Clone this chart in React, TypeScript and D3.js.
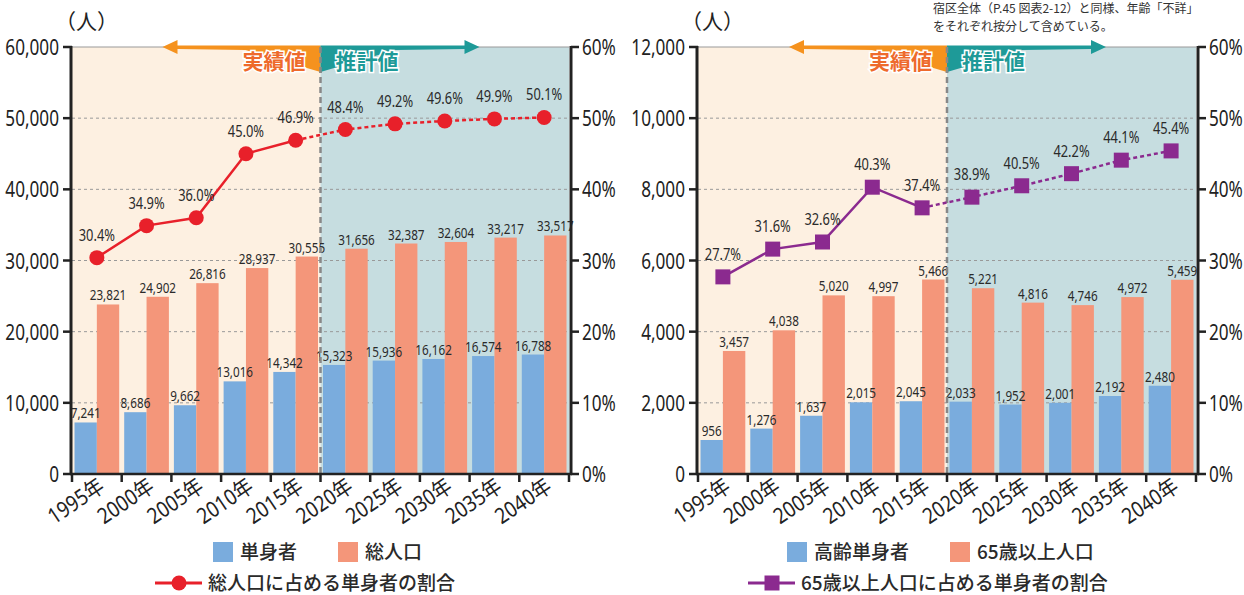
import React from "react";
import * as d3 from "d3";

const years = ["1995年", "2000年", "2005年", "2010年", "2015年", "2020年", "2025年", "2030年", "2035年", "2040年"];

const singles = [7241, 8686, 9662, 13016, 14342, 15323, 15936, 16162, 16574, 16788];
const totalPop = [23821, 24902, 26816, 28937, 30555, 31656, 32387, 32604, 33217, 33517];
const singleShare = [30.4, 34.9, 36.0, 45.0, 46.9, 48.4, 49.2, 49.6, 49.9, 50.1];

const elderlySingles = [956, 1276, 1637, 2015, 2045, 2033, 1952, 2001, 2192, 2480];
const elderlyPop = [3457, 4038, 5020, 4997, 5466, 5221, 4816, 4746, 4972, 5459];
const elderlyShare = [27.7, 31.6, 32.6, 40.3, 37.4, 38.9, 40.5, 42.2, 44.1, 45.4];

const leftTicks = [0, 10000, 20000, 30000, 40000, 50000, 60000];
const rightTicks = [0, 2000, 4000, 6000, 8000, 10000, 12000];
const pctTicks = [0, 10, 20, 30, 40, 50, 60];

const NUM = "'Noto Sans', 'Noto Sans CJK JP', sans-serif";
const JP = "'Noto Sans CJK JP', sans-serif";
const BLUE = "#7AACDD";
const ORANGE = "#F4967A";
const TXT = "#2a2a2a";
const SX = 0.78;

type CTProps = {
  x: number;
  y: number;
  size: number;
  anchor?: "start" | "middle" | "end";
  fill?: string;
  rotate?: number;
  sx?: number;
  children: React.ReactNode;
};

function CText({ x, y, size, anchor = "start", fill = TXT, rotate = 0, sx = SX, children }: CTProps) {
  return (
    <text
      transform={`translate(${x},${y}) rotate(${rotate}) scale(${sx},1)`}
      textAnchor={anchor}
      fontSize={size}
      fill={fill}
      fontFamily={NUM}
    >
      {children}
    </text>
  );
}

type ChartProps = {
  x0: number;
  x1: number;
  yMax: number;
  ticks: number[];
  barA: number[];
  barB: number[];
  pct: number[];
  lineColor: string;
  marker: "circle" | "square";
  legendA: string;
  legendB: string;
  legendLine: string;
  legendAX: number;
  legendBX: number;
  legendLineX: number;
};

const top = 47;
const bottom = 474;
const fmt = d3.format(",");

function Chart(p: ChartProps) {
  const x = d3.scaleBand<string>().domain(years).range([p.x0, p.x1]).padding(0);
  const step = x.step();
  const sub = d3.scaleBand<string>().domain(["a", "b"]).range([2.5, step - 2.5]).padding(0);
  const y = d3.scaleLinear().domain([0, p.yMax]).range([bottom, top]);
  const yp = d3.scaleLinear().domain([0, 60]).range([bottom, top]);
  const divX = x(years[5])!;
  const cx = (i: number) => x(years[i])! + step / 2;

  const solidLine = d3.line<number>().x((_, i) => cx(i)).y((d) => yp(d));
  const solidPts = p.pct.slice(0, 5);
  const dashPts = p.pct.slice(4);
  const dashLine = d3.line<number>().x((_, i) => cx(i + 4)).y((d) => yp(d));

  const markerEl = (mx: number, my: number, key: string | number) =>
    p.marker === "circle" ? (
      <circle key={key} cx={mx} cy={my} r={7.5} fill={p.lineColor} />
    ) : (
      <rect key={key} x={mx - 7.5} y={my - 7.5} width={15} height={15} fill={p.lineColor} />
    );

  const legendY1 = 552;
  const legendY2 = 583;
  const oTip = divX - 158;
  const tTip = divX + 159;

  return (
    <g>
      {/* backgrounds */}
      <rect x={p.x0} y={top} width={divX - p.x0} height={bottom - top} fill="#FDF0E1" />
      <rect x={divX} y={top} width={p.x1 - divX} height={bottom - top} fill="#C6DDE0" />
      {/* grid */}
      {p.ticks.slice(1, -1).map((t) => (
        <line key={t} x1={p.x0} x2={p.x1} y1={y(t)} y2={y(t)} stroke="#999" strokeWidth={1} strokeDasharray="3,3" />
      ))}
      <line x1={p.x0} x2={p.x1} y1={top} y2={top} stroke="#999" strokeWidth={1.2} />
      {/* bars */}
      {years.map((yr, i) => (
        <g key={yr}>
          <rect x={x(yr)! + sub("a")!} y={y(p.barA[i])} width={sub.bandwidth()} height={bottom - y(p.barA[i])} fill={BLUE} />
          <rect x={x(yr)! + sub("b")!} y={y(p.barB[i])} width={sub.bandwidth()} height={bottom - y(p.barB[i])} fill={ORANGE} />
          <CText x={x(yr)! + sub("a")! + sub.bandwidth() / 2} y={y(p.barA[i]) - 4} anchor="middle" size={15}>
            {fmt(p.barA[i])}
          </CText>
          <CText x={x(yr)! + sub("b")! + sub.bandwidth() / 2} y={y(p.barB[i]) - 4} anchor="middle" size={15}>
            {fmt(p.barB[i])}
          </CText>
        </g>
      ))}
      {/* divider */}
      <line x1={divX} x2={divX} y1={top} y2={bottom} stroke="#888" strokeWidth={2.5} strokeDasharray="6,4" />
      {/* arrows */}
      <path
        d={`M${divX},${top - 1.5} L${oTip + 15},${top - 1.5} L${oTip + 15},${top - 7} L${oTip},${top} L${oTip + 15},${top + 7} L${oTip + 15},${top + 2} L${divX - 75},${top + 3} L${divX},${top + 25} Z`}
        fill="#F5921E"
      />
      <path
        d={`M${divX},${top - 1.5} L${tTip - 15},${top - 1.5} L${tTip - 15},${top - 7} L${tTip},${top} L${tTip - 15},${top + 7} L${tTip - 15},${top + 2} L${divX + 75},${top + 3} L${divX},${top + 25} Z`}
        fill="#1E9A98"
      />
      <line x1={divX} x2={divX} y1={top} y2={top + 30} stroke="#888" strokeWidth={2.5} strokeDasharray="6,4" />
      <text x={divX - 15} y={top + 22} textAnchor="end" fontSize={21} fontWeight="bold" fontFamily={JP} fill="#EE6A2C" stroke="#fff" strokeWidth={3} paintOrder="stroke">
        実績値
      </text>
      <text x={divX + 15} y={top + 22} textAnchor="start" fontSize={21} fontWeight="bold" fontFamily={JP} fill="#1E9A98" stroke="#fff" strokeWidth={3} paintOrder="stroke">
        推計値
      </text>
      {/* line */}
      <path d={solidLine(solidPts)!} fill="none" stroke={p.lineColor} strokeWidth={2.5} />
      <path d={dashLine(dashPts)!} fill="none" stroke={p.lineColor} strokeWidth={2.5} strokeDasharray="4,3" />
      {p.pct.map((v, i) => markerEl(cx(i), yp(v), i))}
      {p.pct.map((v, i) => (
        <CText key={i} x={cx(i)} y={yp(v) - 17} anchor="middle" size={16.5}>
          {v.toFixed(1)}%
        </CText>
      ))}
      {/* axes */}
      <line x1={p.x0 - 1} x2={p.x0 - 1} y1={top - 1} y2={bottom + 1} stroke="#222" strokeWidth={3} />
      <line x1={p.x1 + 2} x2={p.x1 + 2} y1={top - 1} y2={bottom + 1} stroke="#222" strokeWidth={3} />
      <line x1={p.x0 - 2} x2={p.x1 + 3} y1={bottom} y2={bottom} stroke="#222" strokeWidth={2.5} />
      {p.ticks.map((t) => (
        <g key={t}>
          <line x1={p.x0 - 9} x2={p.x0} y1={y(t)} y2={y(t)} stroke="#222" strokeWidth={2.5} />
          <CText x={p.x0 - 13} y={y(t) + 8} anchor="end" size={22} fill="#222">
            {fmt(t)}
          </CText>
        </g>
      ))}
      {pctTicks.map((t) => (
        <g key={t}>
          <line x1={p.x1 + 2} x2={p.x1 + 10} y1={yp(t)} y2={yp(t)} stroke="#222" strokeWidth={2.5} />
          <CText x={p.x1 + 13} y={yp(t) + 8} anchor="start" size={22} fill="#222">
            {t}%
          </CText>
        </g>
      ))}
      {years.map((yr, i) => (
        <line key={i} x1={x(yr)!} x2={x(yr)!} y1={bottom} y2={bottom + 8} stroke="#222" strokeWidth={2.5} />
      ))}
      <line x1={p.x1} x2={p.x1} y1={bottom} y2={bottom + 8} stroke="#222" strokeWidth={2.5} />
      {years.map((yr, i) => (
        <CText key={yr} x={cx(i) + 9} y={bottom + 16} rotate={-34} anchor="end" size={22} fill="#222" sx={0.86}>
          {yr}
        </CText>
      ))}
      {/* unit */}
      <text x={p.x0 - 17} y={29} fontSize={21} fill="#222" fontFamily={JP}>
        （人）
      </text>
      {/* legend */}
      <rect x={p.legendAX} y={legendY1 - 10} width={20} height={20} fill={BLUE} />
      <text x={p.legendAX + 27} y={legendY1 + 7} fontSize={19} fill={TXT} fontFamily={JP} fontWeight={500}>
        {p.legendA}
      </text>
      <rect x={p.legendBX} y={legendY1 - 10} width={20} height={20} fill={ORANGE} />
      <text x={p.legendBX + 27} y={legendY1 + 7} fontSize={19} fill={TXT} fontFamily={JP} fontWeight={500}>
        {p.legendB}
      </text>
      <line x1={p.legendLineX} x2={p.legendLineX + 47} y1={legendY2} y2={legendY2} stroke={p.lineColor} strokeWidth={3} />
      {markerEl(p.legendLineX + 24, legendY2, "lg")}
      <text x={p.legendLineX + 53} y={legendY2 + 7} fontSize={19} fill={TXT} fontFamily={JP} fontWeight={500}>
        {p.legendLine}
      </text>
    </g>
  );
}

export default function App() {
  return (
    <svg width={1244} height={595} style={{ position: "absolute", left: 0, top: 0, background: "#fff" }}>
      <Chart
        x0={72}
        x1={569}
        yMax={60000}
        ticks={leftTicks}
        barA={singles}
        barB={totalPop}
        pct={singleShare}
        lineColor="#E8202A"
        marker="circle"
        legendA="単身者"
        legendB="総人口"
        legendLine="総人口に占める単身者の割合"
        legendAX={213}
        legendBX={338}
        legendLineX={155}
      />
      <Chart
        x0={698}
        x1={1196}
        yMax={12000}
        ticks={rightTicks}
        barA={elderlySingles}
        barB={elderlyPop}
        pct={elderlyShare}
        lineColor="#8B2A8F"
        marker="square"
        legendA="高齢単身者"
        legendB="65歳以上人口"
        legendLine="65歳以上人口に占める単身者の割合"
        legendAX={787}
        legendBX={950}
        legendLineX={748}
      />
      <text x={933} y={13} fontSize={12} fill="#333" fontFamily={JP}>
        宿区全体（P.45 図表2-12）と同様、年齢「不詳」
      </text>
      <text x={933} y={31} fontSize={12} fill="#333" fontFamily={JP}>
        をそれぞれ按分して含めている。
      </text>
    </svg>
  );
}
